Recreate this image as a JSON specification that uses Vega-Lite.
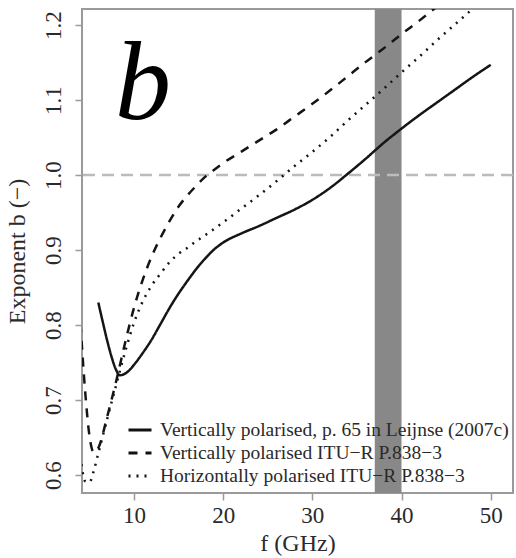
{
  "$schema": "https://vega.github.io/schema/vega-lite/v6.json",
  "width": 431,
  "height": 484,
  "autosize": {"type": "none"},
  "padding": {"left": 82, "top": 9, "right": 3, "bottom": 65},
  "background": "white",
  "config": {
    "view": {"stroke": "#9a9a9a", "strokeWidth": 2},
    "font": "Liberation Serif, Times New Roman, DejaVu Serif, serif",
    "axis": {
      "grid": false,
      "domain": false,
      "tickColor": "#9a9a9a",
      "tickWidth": 1.5,
      "tickSize": 7,
      "labelFont": "Liberation Serif, Times New Roman, DejaVu Serif, serif",
      "labelFontSize": 23,
      "labelColor": "#2a2a2a",
      "titleFont": "Liberation Serif, Times New Roman, DejaVu Serif, serif",
      "titleFontSize": 24,
      "titleFontWeight": "normal",
      "titleColor": "#2a2a2a"
    },
    "legend": {"labelFont": "Liberation Serif, Times New Roman, DejaVu Serif, serif"}
  },
  "datasets": {
    "curves": [
      {"f": 6.0, "b": 0.830, "series": "Vertically polarised, p. 65 in Leijnse (2007c)"},
      {"f": 6.5, "b": 0.804, "series": "Vertically polarised, p. 65 in Leijnse (2007c)"},
      {"f": 7.0, "b": 0.779, "series": "Vertically polarised, p. 65 in Leijnse (2007c)"},
      {"f": 7.5, "b": 0.757, "series": "Vertically polarised, p. 65 in Leijnse (2007c)"},
      {"f": 8.0, "b": 0.740, "series": "Vertically polarised, p. 65 in Leijnse (2007c)"},
      {"f": 8.4, "b": 0.733, "series": "Vertically polarised, p. 65 in Leijnse (2007c)"},
      {"f": 8.8, "b": 0.734, "series": "Vertically polarised, p. 65 in Leijnse (2007c)"},
      {"f": 9.5, "b": 0.740, "series": "Vertically polarised, p. 65 in Leijnse (2007c)"},
      {"f": 10.0, "b": 0.747, "series": "Vertically polarised, p. 65 in Leijnse (2007c)"},
      {"f": 11.0, "b": 0.763, "series": "Vertically polarised, p. 65 in Leijnse (2007c)"},
      {"f": 12.0, "b": 0.781, "series": "Vertically polarised, p. 65 in Leijnse (2007c)"},
      {"f": 13.0, "b": 0.802, "series": "Vertically polarised, p. 65 in Leijnse (2007c)"},
      {"f": 14.0, "b": 0.823, "series": "Vertically polarised, p. 65 in Leijnse (2007c)"},
      {"f": 15.0, "b": 0.842, "series": "Vertically polarised, p. 65 in Leijnse (2007c)"},
      {"f": 16.0, "b": 0.859, "series": "Vertically polarised, p. 65 in Leijnse (2007c)"},
      {"f": 17.0, "b": 0.875, "series": "Vertically polarised, p. 65 in Leijnse (2007c)"},
      {"f": 18.0, "b": 0.889, "series": "Vertically polarised, p. 65 in Leijnse (2007c)"},
      {"f": 19.0, "b": 0.901, "series": "Vertically polarised, p. 65 in Leijnse (2007c)"},
      {"f": 20.0, "b": 0.910, "series": "Vertically polarised, p. 65 in Leijnse (2007c)"},
      {"f": 22.0, "b": 0.922, "series": "Vertically polarised, p. 65 in Leijnse (2007c)"},
      {"f": 24.0, "b": 0.932, "series": "Vertically polarised, p. 65 in Leijnse (2007c)"},
      {"f": 26.0, "b": 0.943, "series": "Vertically polarised, p. 65 in Leijnse (2007c)"},
      {"f": 28.0, "b": 0.954, "series": "Vertically polarised, p. 65 in Leijnse (2007c)"},
      {"f": 30.0, "b": 0.967, "series": "Vertically polarised, p. 65 in Leijnse (2007c)"},
      {"f": 32.0, "b": 0.983, "series": "Vertically polarised, p. 65 in Leijnse (2007c)"},
      {"f": 34.0, "b": 1.002, "series": "Vertically polarised, p. 65 in Leijnse (2007c)"},
      {"f": 36.0, "b": 1.022, "series": "Vertically polarised, p. 65 in Leijnse (2007c)"},
      {"f": 38.0, "b": 1.043, "series": "Vertically polarised, p. 65 in Leijnse (2007c)"},
      {"f": 40.0, "b": 1.062, "series": "Vertically polarised, p. 65 in Leijnse (2007c)"},
      {"f": 42.0, "b": 1.080, "series": "Vertically polarised, p. 65 in Leijnse (2007c)"},
      {"f": 44.0, "b": 1.097, "series": "Vertically polarised, p. 65 in Leijnse (2007c)"},
      {"f": 46.0, "b": 1.114, "series": "Vertically polarised, p. 65 in Leijnse (2007c)"},
      {"f": 48.0, "b": 1.131, "series": "Vertically polarised, p. 65 in Leijnse (2007c)"},
      {"f": 50.0, "b": 1.147, "series": "Vertically polarised, p. 65 in Leijnse (2007c)"},

      {"f": 4.0, "b": 0.802, "series": "Vertically polarised ITU−R P.838−3"},
      {"f": 4.5, "b": 0.715, "series": "Vertically polarised ITU−R P.838−3"},
      {"f": 5.0, "b": 0.653, "series": "Vertically polarised ITU−R P.838−3"},
      {"f": 5.5, "b": 0.630, "series": "Vertically polarised ITU−R P.838−3"},
      {"f": 6.0, "b": 0.636, "series": "Vertically polarised ITU−R P.838−3"},
      {"f": 7.0, "b": 0.678, "series": "Vertically polarised ITU−R P.838−3"},
      {"f": 8.0, "b": 0.725, "series": "Vertically polarised ITU−R P.838−3"},
      {"f": 9.0, "b": 0.776, "series": "Vertically polarised ITU−R P.838−3"},
      {"f": 10.0, "b": 0.823, "series": "Vertically polarised ITU−R P.838−3"},
      {"f": 11.0, "b": 0.861, "series": "Vertically polarised ITU−R P.838−3"},
      {"f": 12.0, "b": 0.892, "series": "Vertically polarised ITU−R P.838−3"},
      {"f": 13.0, "b": 0.917, "series": "Vertically polarised ITU−R P.838−3"},
      {"f": 14.0, "b": 0.939, "series": "Vertically polarised ITU−R P.838−3"},
      {"f": 15.0, "b": 0.958, "series": "Vertically polarised ITU−R P.838−3"},
      {"f": 16.0, "b": 0.973, "series": "Vertically polarised ITU−R P.838−3"},
      {"f": 17.0, "b": 0.986, "series": "Vertically polarised ITU−R P.838−3"},
      {"f": 18.0, "b": 0.998, "series": "Vertically polarised ITU−R P.838−3"},
      {"f": 19.0, "b": 1.007, "series": "Vertically polarised ITU−R P.838−3"},
      {"f": 20.0, "b": 1.016, "series": "Vertically polarised ITU−R P.838−3"},
      {"f": 22.0, "b": 1.031, "series": "Vertically polarised ITU−R P.838−3"},
      {"f": 24.0, "b": 1.046, "series": "Vertically polarised ITU−R P.838−3"},
      {"f": 26.0, "b": 1.061, "series": "Vertically polarised ITU−R P.838−3"},
      {"f": 28.0, "b": 1.078, "series": "Vertically polarised ITU−R P.838−3"},
      {"f": 30.0, "b": 1.095, "series": "Vertically polarised ITU−R P.838−3"},
      {"f": 32.0, "b": 1.113, "series": "Vertically polarised ITU−R P.838−3"},
      {"f": 34.0, "b": 1.132, "series": "Vertically polarised ITU−R P.838−3"},
      {"f": 36.0, "b": 1.151, "series": "Vertically polarised ITU−R P.838−3"},
      {"f": 38.0, "b": 1.169, "series": "Vertically polarised ITU−R P.838−3"},
      {"f": 40.0, "b": 1.188, "series": "Vertically polarised ITU−R P.838−3"},
      {"f": 42.0, "b": 1.206, "series": "Vertically polarised ITU−R P.838−3"},
      {"f": 44.0, "b": 1.225, "series": "Vertically polarised ITU−R P.838−3"},
      {"f": 46.0, "b": 1.245, "series": "Vertically polarised ITU−R P.838−3"},

      {"f": 4.0, "b": 0.625, "series": "Horizontally polarised ITU−R P.838−3"},
      {"f": 4.5, "b": 0.592, "series": "Horizontally polarised ITU−R P.838−3"},
      {"f": 5.0, "b": 0.590, "series": "Horizontally polarised ITU−R P.838−3"},
      {"f": 5.5, "b": 0.606, "series": "Horizontally polarised ITU−R P.838−3"},
      {"f": 6.0, "b": 0.629, "series": "Horizontally polarised ITU−R P.838−3"},
      {"f": 7.0, "b": 0.675, "series": "Horizontally polarised ITU−R P.838−3"},
      {"f": 8.0, "b": 0.720, "series": "Horizontally polarised ITU−R P.838−3"},
      {"f": 9.0, "b": 0.764, "series": "Horizontally polarised ITU−R P.838−3"},
      {"f": 10.0, "b": 0.803, "series": "Horizontally polarised ITU−R P.838−3"},
      {"f": 11.0, "b": 0.832, "series": "Horizontally polarised ITU−R P.838−3"},
      {"f": 12.0, "b": 0.853, "series": "Horizontally polarised ITU−R P.838−3"},
      {"f": 13.0, "b": 0.869, "series": "Horizontally polarised ITU−R P.838−3"},
      {"f": 14.0, "b": 0.884, "series": "Horizontally polarised ITU−R P.838−3"},
      {"f": 15.0, "b": 0.895, "series": "Horizontally polarised ITU−R P.838−3"},
      {"f": 16.0, "b": 0.903, "series": "Horizontally polarised ITU−R P.838−3"},
      {"f": 17.0, "b": 0.912, "series": "Horizontally polarised ITU−R P.838−3"},
      {"f": 18.0, "b": 0.920, "series": "Horizontally polarised ITU−R P.838−3"},
      {"f": 20.0, "b": 0.937, "series": "Horizontally polarised ITU−R P.838−3"},
      {"f": 22.0, "b": 0.955, "series": "Horizontally polarised ITU−R P.838−3"},
      {"f": 24.0, "b": 0.973, "series": "Horizontally polarised ITU−R P.838−3"},
      {"f": 26.0, "b": 0.992, "series": "Horizontally polarised ITU−R P.838−3"},
      {"f": 28.0, "b": 1.012, "series": "Horizontally polarised ITU−R P.838−3"},
      {"f": 30.0, "b": 1.031, "series": "Horizontally polarised ITU−R P.838−3"},
      {"f": 32.0, "b": 1.051, "series": "Horizontally polarised ITU−R P.838−3"},
      {"f": 34.0, "b": 1.073, "series": "Horizontally polarised ITU−R P.838−3"},
      {"f": 36.0, "b": 1.094, "series": "Horizontally polarised ITU−R P.838−3"},
      {"f": 38.0, "b": 1.115, "series": "Horizontally polarised ITU−R P.838−3"},
      {"f": 40.0, "b": 1.137, "series": "Horizontally polarised ITU−R P.838−3"},
      {"f": 42.0, "b": 1.158, "series": "Horizontally polarised ITU−R P.838−3"},
      {"f": 44.0, "b": 1.180, "series": "Horizontally polarised ITU−R P.838−3"},
      {"f": 46.0, "b": 1.201, "series": "Horizontally polarised ITU−R P.838−3"},
      {"f": 48.0, "b": 1.222, "series": "Horizontally polarised ITU−R P.838−3"},
      {"f": 50.0, "b": 1.243, "series": "Horizontally polarised ITU−R P.838−3"}
    ],
    "band": [{"f1": 37, "f2": 40}],
    "ref": [{"b": 1.0}],
    "label": [{"f": 11.0, "b": 1.075, "text": "b"}]
  },
  "layer": [
    {
      "data": {"name": "band"},
      "mark": {"type": "rect", "color": "#888888"},
      "encoding": {
        "x": {"field": "f1", "type": "quantitative", "scale": {"domain": [4.17, 52.5], "nice": false, "zero": false},
              "axis": {"values": [10, 20, 30, 40, 50], "title": "f (GHz)", "titlePadding": 4, "labelPadding": 4}},
        "x2": {"field": "f2"}
      }
    },
    {
      "data": {"name": "ref"},
      "mark": {"type": "rule", "color": "#bbbbbb", "strokeWidth": 2.5, "strokeDash": [12, 7]},
      "encoding": {
        "y": {"field": "b", "type": "quantitative"}
      }
    },
    {
      "data": {"name": "curves"},
      "mark": {"type": "line", "clip": true, "interpolate": "monotone", "strokeWidth": 2.5, "color": "#151515"},
      "encoding": {
        "x": {"field": "f", "type": "quantitative"},
        "y": {"field": "b", "type": "quantitative",
              "scale": {"domain": [0.576, 1.2215], "nice": false, "zero": false},
              "axis": {"values": [0.6, 0.7, 0.8, 0.9, 1.0, 1.1, 1.2], "format": ".1f", "labelAngle": 270,
                       "labelAlign": "center", "labelBaseline": "bottom", "labelPadding": 10,
                       "title": "Exponent b (−)", "titlePadding": 13}},
        "strokeDash": {"field": "series", "type": "nominal",
          "scale": {"domain": ["Vertically polarised, p. 65 in Leijnse (2007c)", "Vertically polarised ITU−R P.838−3", "Horizontally polarised ITU−R P.838−3"],
                    "range": [[1, 0], [9, 8], [2, 6]]},
          "legend": {"title": null, "orient": "none", "legendX": 45, "legendY": 408, "padding": 0, "zindex": -1,
                     "symbolType": "stroke", "symbolSize": 529, "symbolStrokeWidth": 3, "symbolStrokeColor": "#111",
                     "labelFont": "Liberation Serif, Times New Roman, DejaVu Serif, serif", "labelFontSize": 19.5, "labelColor": "#2a2a2a", "labelLimit": 400,
                     "labelOffset": 7, "rowPadding": 0}}
      }
    },
    {
      "data": {"name": "label"},
      "mark": {"type": "text", "font": "Liberation Serif, Times New Roman, DejaVu Serif, serif", "fontStyle": "italic", "fontSize": 112, "align": "center", "baseline": "alphabetic", "color": "#000"},
      "encoding": {
        "x": {"field": "f", "type": "quantitative"},
        "y": {"field": "b", "type": "quantitative"},
        "text": {"field": "text"}
      }
    }
  ]
}
